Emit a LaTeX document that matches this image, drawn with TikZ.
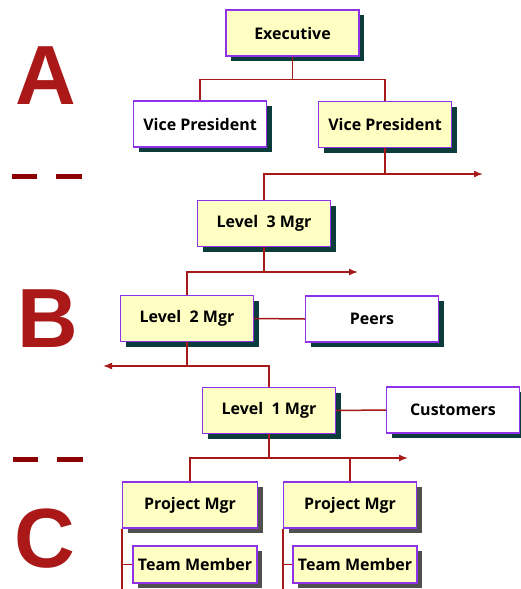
\documentclass[tikz,border=0pt]{standalone}
\usepackage{fontspec}
\setmainfont{Open Sans}
\newfontfamily\letterfont{Liberation Sans}
\usetikzlibrary{arrows.meta}
\usetikzlibrary{shadows}
\usetikzlibrary{positioning}

\definecolor{boxyellow}{RGB}{255,255,196}
\definecolor{boxpurple}{RGB}{145,50,235}
\definecolor{shteal}{RGB}{12,60,60}
\definecolor{shgray}{RGB}{80,80,80}
\definecolor{linkred}{RGB}{165,25,25}
\definecolor{dashred}{RGB}{139,0,0}
\definecolor{letterred}{RGB}{170,24,24}

\tikzset{
  orgbox/.style={draw=boxpurple, line width=1.3pt, fill=boxyellow, inner sep=0pt,
    minimum width=133pt, minimum height=46pt, font=\bfseries\fontsize{16}{18}\selectfont,
    drop shadow={shadow xshift=5pt, shadow yshift=-5pt, fill=shteal, opacity=1}},
  plainbox/.style={orgbox, fill=white},
  graybox/.style={orgbox, drop shadow={shadow xshift=5pt, shadow yshift=-5pt, fill=shgray, opacity=1}},
  smallbox/.style={graybox, minimum width=124pt, minimum height=37pt},
  link/.style={draw=linkred, line width=1.5pt},
  tolink/.style={link, -{Latex[length=9pt,width=7pt]}},
  bigletter/.style={inner sep=0pt, text=letterred, font=\letterfont\bfseries\fontsize{84}{90}\selectfont},
  dashbar/.style={draw=dashred, line width=5pt}
}

\begin{document}
\begin{tikzpicture}[x=1pt, y=-1pt]
    \useasboundingbox (0,0) rectangle (520,589);

    % level letters
    \node[bigletter] (letA) at (45.5,75.5) {A};
    \node[bigletter] (letB) at (48,318.5) {B};
    \node[bigletter] (letC) at (45,538.5) {C};
    \draw[dashbar] (12,176) -- (37,176);
    \draw[dashbar] (56,176) -- (82,176);
    \draw[dashbar] (13,459) -- (38,459);
    \draw[dashbar] (57,459) -- (83,459);

    % boxes
    \node[orgbox] (exec) at (292.5,33) {Executive};
    \node[plainbox] (vpa) at (200,124) {Vice President};
    \node[orgbox] (vpb) at (385,124.5) {Vice President};
    \node[orgbox] (lthree) at (264,223.5) {Level\ \ 3 Mgr};
    \node[orgbox] (ltwo) at (187,318.5) {Level\ \ 2 Mgr};
    \node[plainbox] (peers) at (372,319) {Peers};
    \node[orgbox] (lone) at (269,410.5) {Level\ \ 1 Mgr};
    \node[plainbox] (cust) at (453,410) {Customers};
    \node[graybox, minimum width=135pt] (pma) at (190,505) {Project Mgr};
    \node[graybox] (pmb) at (350,505) {Project Mgr};
    \node[smallbox] (tma) at (195,564.5) {Team Member};
    \node[smallbox] (tmb) at (355,564.5) {Team Member};

    % free ends
    \coordinate (endA) at (483,174);
    \coordinate (endBa) at (358,272);
    \coordinate (endBb) at (103,366);
    \coordinate (endC) at (408,458);
    \coordinate (taila) at (122,589);
    \coordinate (tailb) at (283,589);

    % connectors
    \draw[link] (exec.south) -- ++(0,23) -| (vpa.north);
    \draw[link] (exec.south) -- ++(0,23) -| (vpb.north);
    \draw[tolink] (vpb.south) |- (endA);
    \draw[link] (vpb.south |- endA) -| (lthree.north);
    \draw[tolink] (lthree.south) |- (endBa);
    \draw[link] (lthree.south |- endBa) -| (ltwo.north);
    \draw[link] (ltwo.east) -- (peers.west);
    \draw[tolink] (ltwo.south) |- (endBb);
    \draw[link] (ltwo.south |- endBb) -| (lone.north);
    \draw[link] (lone.east) -- (cust.west);
    \draw[tolink] (lone.south) |- (endC);
    \draw[link] (lone.south |- endC) -| (pma.north);
    \draw[link] (lone.south |- endC) -| (pmb.north);
    \draw[link] (pma.south west -| taila) -- (taila);
    \draw[link] (taila |- tma.west) -- (tma.west);
    \draw[link] (pmb.south west -| tailb) -- (tailb);
    \draw[link] (tailb |- tmb.west) -- (tmb.west);
\end{tikzpicture}
\end{document}
